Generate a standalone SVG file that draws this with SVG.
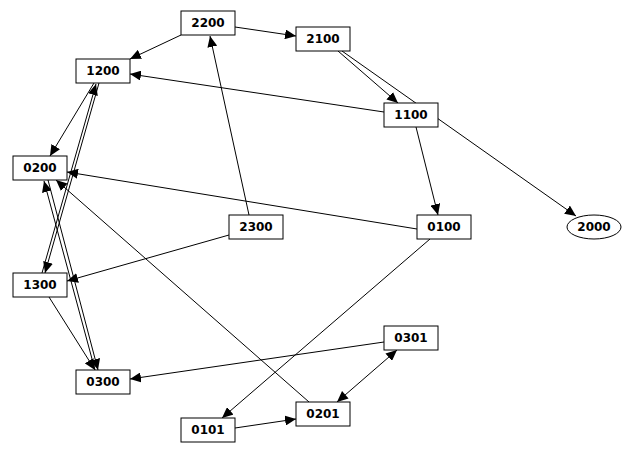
<svg xmlns="http://www.w3.org/2000/svg" width="635" height="466" viewBox="0 0 635 466">
<style>
.n rect,.n ellipse{fill:#fff;stroke:#000;stroke-width:1}
.n text{font-family:"DejaVu Sans",sans-serif;font-weight:bold;font-size:12px;text-anchor:middle;dominant-baseline:central}
#edges line{stroke:#000;stroke-width:1;fill:none}
.a{marker-end:url(#ah)}
.b{marker-start:url(#as);marker-end:url(#ah)}
</style>
<defs>
<marker id="ah" markerUnits="userSpaceOnUse" markerWidth="12" markerHeight="10" refX="11" refY="5" orient="auto"><path d="M0,0 L11,5 L0,10 z" fill="#000"/></marker>
<marker id="as" markerUnits="userSpaceOnUse" markerWidth="12" markerHeight="10" refX="0" refY="5" orient="auto"><path d="M11,0 L0,5 L11,10 z" fill="#000"/></marker>
</defs>
<rect width="635" height="466" fill="#fff"/>
<g id="edges">
<line class="a" x1="235" y1="27" x2="296" y2="36"/>
<line class="a" x1="181" y1="35" x2="130" y2="59"/>
<line class="a" x1="249" y1="215" x2="210" y2="36"/>
<line class="a" x1="338" y1="51" x2="398" y2="103"/>
<line class="a" x1="342" y1="51" x2="576" y2="216"/>
<line class="a" x1="384" y1="112" x2="130" y2="74"/>
<line class="a" x1="416" y1="127" x2="438" y2="215"/>
<line class="a" x1="94" y1="83" x2="50" y2="156"/>
<line class="a" x1="99" y1="83" x2="45" y2="273"/>
<line class="a" x1="42" y1="273" x2="96" y2="84"/>
<line class="a" x1="48" y1="180" x2="98" y2="370"/>
<line class="a" x1="95" y1="370" x2="44" y2="181"/>
<line class="a" x1="49" y1="297" x2="95" y2="370"/>
<line class="a" x1="229" y1="235" x2="67" y2="281"/>
<line class="a" x1="417" y1="229" x2="67" y2="172"/>
<line class="a" x1="309" y1="402" x2="56" y2="180"/>
<line class="a" x1="430" y1="239" x2="222" y2="418"/>
<line class="a" x1="235" y1="428" x2="296" y2="419"/>
<line class="b" x1="337" y1="402" x2="397" y2="350"/>
<line class="a" x1="384" y1="342" x2="130" y2="379"/>
</g>
<g id="n2200" class="n"><rect x="181" y="11" width="54" height="24"/><text x="208" y="23">2200</text></g>
<g id="n2100" class="n"><rect x="296" y="27" width="54" height="24"/><text x="323" y="39">2100</text></g>
<g id="n1200" class="n"><rect x="76" y="59" width="54" height="24"/><text x="103" y="71">1200</text></g>
<g id="n1100" class="n"><rect x="384" y="103" width="54" height="24"/><text x="411" y="115">1100</text></g>
<g id="n0200" class="n"><rect x="13" y="156" width="54" height="24"/><text x="40" y="168">0200</text></g>
<g id="n2300" class="n"><rect x="229" y="215" width="54" height="24"/><text x="256" y="227">2300</text></g>
<g id="n0100" class="n"><rect x="417" y="215" width="54" height="24"/><text x="444" y="227">0100</text></g>
<g id="n2000" class="n"><ellipse cx="594" cy="227" rx="27" ry="12"/><text x="594" y="227">2000</text></g>
<g id="n1300" class="n"><rect x="13" y="273" width="54" height="24"/><text x="40" y="285">1300</text></g>
<g id="n0301" class="n"><rect x="384" y="326" width="54" height="24"/><text x="411" y="338">0301</text></g>
<g id="n0300" class="n"><rect x="76" y="370" width="54" height="24"/><text x="103" y="382">0300</text></g>
<g id="n0201" class="n"><rect x="296" y="402" width="54" height="24"/><text x="323" y="414">0201</text></g>
<g id="n0101" class="n"><rect x="181" y="418" width="54" height="24"/><text x="208" y="430">0101</text></g>
</svg>
